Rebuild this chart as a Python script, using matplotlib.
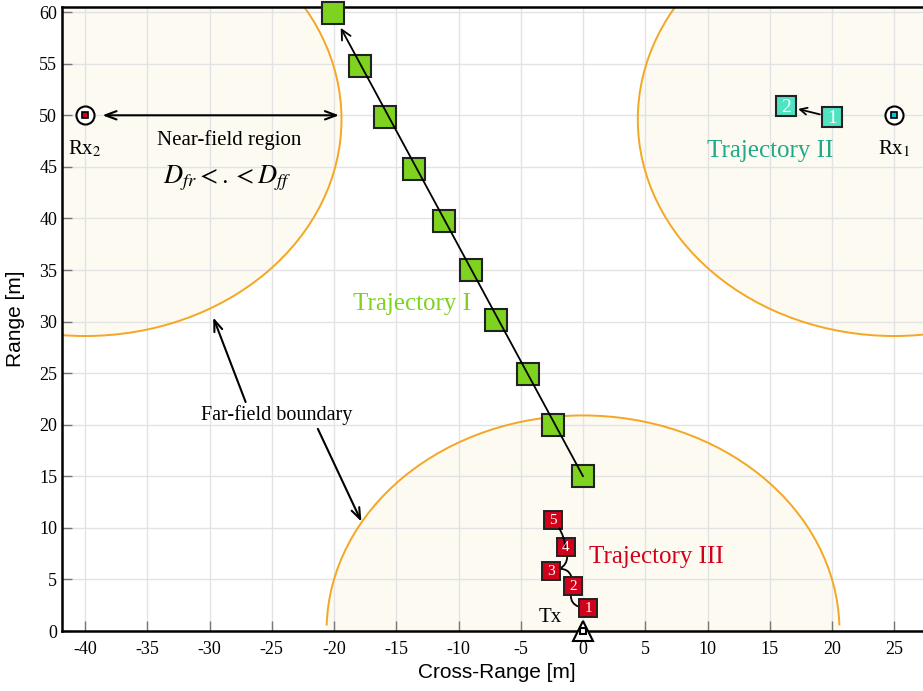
import matplotlib
matplotlib.use("Agg")
import matplotlib.pyplot as plt
from matplotlib.patches import Ellipse, Arc, FancyArrowPatch

plt.rcParams['mathtext.fontset'] = 'stix'
plt.rcParams['axes.unicode_minus'] = False

SERIF = 'Liberation Serif'
SANS = 'Liberation Sans'

# trajectory I (green)
traj1_x = [0.0, -2.4, -4.4, -7.0, -9.0, -11.2, -13.6, -15.9, -17.9, -20.1]
traj1_y = [15.0, 20.0, 24.9, 30.2, 35.0, 39.8, 44.8, 49.8, 54.8, 59.9]
# trajectory II (teal)
traj2_x = [20.0, 16.3]
traj2_y = [49.8, 50.9]
traj2_lbl = ['1', '2']
# trajectory III (red)
traj3_x = [0.4, -0.8, -2.6, -1.4, -2.4]
traj3_y = [2.2, 4.4, 5.8, 8.1, 10.75]
traj3_lbl = ['1', '2', '3', '4', '5']
traj3_rad = [-0.7, 0.7, 0.6, 0.15]

# antennas
tx_pos = (0.0, 0.0)
rx1_pos = (25.0, 50.0)
rx2_pos = (-40.0, 50.0)

# near-field boundaries (center x, center y, half width, half height)
regions = [(-40.0, 49.6, 20.6, 21.0), (25.0, 49.6, 20.6, 21.0), (0.0, 0.0, 20.6, 20.9)]

GREEN = '#7ed321'
TEAL = '#50e3c2'
TEAL_TXT = '#1fa98a'
RED = '#d0021b'
ORANGE = '#f5a623'
CREAM = '#fdfaf2'

fig = plt.figure(figsize=(9.23, 6.91), dpi=100)
ax = fig.add_axes([62 / 923, 60 / 691, 869 / 923, 624 / 691])
ax.set_xlim(-41.85, 27.95)
ax.set_ylim(0, 60.5)
ax.set_axisbelow(True)

# regions: fill under grid, outline on top
for i, (cx, cy, a, b) in enumerate(regions):
    ax.add_patch(Ellipse((cx, cy), 2 * a, 2 * b, facecolor=CREAM, edgecolor='none', zorder=0.2))
    if i == 2:
        ax.add_patch(Arc((cx, cy), 2 * a, 2 * b, theta1=1.5, theta2=178.5, color=ORANGE, lw=1.4, zorder=1.5))
    else:
        ax.add_patch(Ellipse((cx, cy), 2 * a, 2 * b, fill=False, edgecolor=ORANGE, lw=1.4, zorder=1.5))

ax.grid(True, color='#e3e3e3', lw=1.0)
ax.set_xticks(range(-40, 30, 5))
ax.set_yticks(range(0, 61, 5))
ax.tick_params(direction='in', length=7, width=1.0, color='#777777', labelsize=13)
ax.tick_params(axis='x', pad=7)
for lab in ax.get_xticklabels() + ax.get_yticklabels():
    lab.set_fontfamily(SERIF)
for s in ['left', 'bottom', 'top']:
    ax.spines[s].set_linewidth(1.8)
ax.spines['right'].set_visible(False)

ax.set_xlabel('Cross-Range [m]', fontfamily=SANS, fontsize=15, labelpad=4)
ax.set_ylabel('Range [m]', fontfamily=SANS, fontsize=15, labelpad=10)

# trajectory I
ax.plot(traj1_x, traj1_y, 's', ms=16, mfc=GREEN, mec='#222222', mew=1.5, zorder=3, clip_on=False)
ax.annotate('', xy=(traj1_x[-1], traj1_y[-1]), xytext=(traj1_x[0], traj1_y[0]),
            arrowprops=dict(arrowstyle='->,head_length=0.7,head_width=0.35', color='black', lw=1.3,
                            shrinkA=0, shrinkB=12), zorder=4)
ax.text(-13.7, 31.7, 'Trajectory I', color=GREEN, fontfamily=SERIF, fontsize=18, ha='center', va='center')

# trajectory II
ax.annotate('', xy=(traj2_x[1], traj2_y[1]), xytext=(traj2_x[0], traj2_y[0]),
            arrowprops=dict(arrowstyle='->,head_length=0.5,head_width=0.25', color='black', lw=1.3,
                            shrinkA=9, shrinkB=9), zorder=2.5)
ax.plot(traj2_x, traj2_y, 's', ms=15, mfc=TEAL, mec='#222222', mew=1.5, zorder=3)
for x, y, t in zip(traj2_x, traj2_y, traj2_lbl):
    ax.text(x, y - 0.1, t, color='white', fontfamily=SERIF, fontsize=14, ha='center', va='center', zorder=4)
ax.text(15.0, 46.5, 'Trajectory II', color=TEAL_TXT, fontfamily=SERIF, fontsize=18, ha='center', va='center')

# trajectory III
for i in range(len(traj3_x) - 1):
    last = i == len(traj3_x) - 2
    style = '->,head_length=0.4,head_width=0.2' if last else '-'
    ax.add_patch(FancyArrowPatch((traj3_x[i], traj3_y[i]), (traj3_x[i + 1], traj3_y[i + 1]),
                                 connectionstyle=f'arc3,rad={traj3_rad[i]}', arrowstyle=style,
                                 color='black', lw=1.3, shrinkA=0, shrinkB=6 if last else 0,
                                 zorder=2.5 if not last else 3.5))
ax.plot(traj3_x, traj3_y, 's', ms=12.5, mfc=RED, mec='#222222', mew=1.4, zorder=3)
for x, y, t in zip(traj3_x, traj3_y, traj3_lbl):
    ax.text(x, y - 0.05, t, color='white', fontfamily=SERIF, fontsize=11, ha='center', va='center', zorder=4)
ax.text(5.9, 7.2, 'Trajectory III', color=RED, fontfamily=SERIF, fontsize=18, ha='center', va='center')

# Tx
ax.plot(*tx_pos, '^', ms=15, mfc='white', mec='black', mew=1.5, zorder=5, clip_on=False)
ax.plot(*tx_pos, 's', ms=4.5, mfc='white', mec='black', mew=1.5, zorder=6, clip_on=False)
ax.text(-2.6, 1.3, 'Tx', fontfamily=SERIF, fontsize=15, ha='center', va='center')

# Rx
for pos, col, lbl in [(rx1_pos, '#00c8d8', 'Rx$_1$'), (rx2_pos, RED, 'Rx$_2$')]:
    ax.plot(*pos, 'o', ms=13, mfc='white', mec='black', mew=1.5, zorder=5)
    ax.plot(*pos, 's', ms=5, mfc=col, mec='black', mew=1.2, zorder=6)
    ax.text(pos[0], pos[1] - 3.3, lbl, fontfamily=SERIF, fontsize=15, ha='center', va='center')

# annotations
ax.annotate('', xy=(-19.6, 50), xytext=(-38.6, 50),
            arrowprops=dict(arrowstyle='<->,head_length=0.8,head_width=0.3', color='black', lw=1.5,
                            shrinkA=0, shrinkB=0))
ax.text(-28.4, 47.6, 'Near-field region', fontfamily=SERIF, fontsize=15, ha='center', va='center')
ax.text(-28.6, 43.9, r'$D_{fr} < . < D_{ff}$', fontsize=19, ha='center', va='center')

ax.text(-24.6, 20.9, 'Far-field boundary', fontfamily=SERIF, fontsize=14.5, ha='center', va='center')
far_arrow = dict(arrowstyle='->,head_length=0.8,head_width=0.3', color='black', lw=1.5, shrinkA=0, shrinkB=0)
ax.annotate('', xy=(-29.7, 30.4), xytext=(-27.1, 22.2), arrowprops=far_arrow)
ax.annotate('', xy=(-17.8, 10.6), xytext=(-21.3, 19.6), arrowprops=far_arrow)

fig.savefig('out.png', dpi=100)
